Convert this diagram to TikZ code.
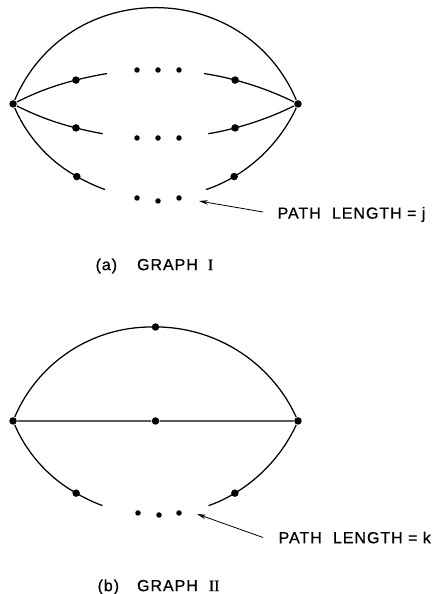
\documentclass[tikz,border=0pt]{standalone}
\usepackage{fontspec}
\setmainfont{Liberation Sans}
\newfontfamily\letfont[LetterSpace=6,FakeBold=0.8]{Liberation Sans}
\newfontfamily\romfont[FakeBold=0.8]{Liberation Serif}
\usetikzlibrary{arrows.meta,calc}

\begin{document}
\begin{tikzpicture}[x=1pt,y=1pt,line width=1.25pt,
  vtx/.style={circle,fill=black,inner sep=0pt,minimum size=7.5pt},
  dotg/.style={circle,fill=black,inner sep=0pt,minimum size=5.5pt},
  seg/.style={looseness=0.86},
  lab/.style={font=\letfont\fontsize{16}{19}\selectfont,anchor=west,inner sep=0pt},
  ptr/.style={line width=0.8pt,-{Stealth[length=9pt,width=4.5pt]}}]
 \useasboundingbox (0,0) rectangle (432,594);
 % graph I
 \coordinate (ca) at (155.5,429);
 \coordinate (cb) at (155.5,551);
 \coordinate (cc) at (155.5,210.6);
 \coordinate (cd) at (155.5,769.4);
 \node[vtx] (l1) at ($(ca)+(156.8:155)$) {};
 \node[vtx] (r1) at ($(ca)+(23.2:155)$) {};
 \draw (l1) to[bend left=66.8,looseness=1.22] (r1);
 % upper path
 \node[vtx] (p1) at ($(cc)+(104.7:313.6)$) {};
 \coordinate (e1) at ($(cc)+(98.9:313.6)$);
 \coordinate (f1) at ($(cc)+(81.1:313.6)$);
 \node[vtx] (q1) at ($(cc)+(75.3:313.6)$) {};
 \draw[seg] (l1) to[bend left=6.15] (p1) to[bend left=2.9] (e1);
 \draw[seg] (f1) to[bend left=2.9] (q1) to[bend left=6.15] (r1);
 % middle path
 \node[vtx] (p2) at ($(cd)+(255.3:313.6)$) {};
 \coordinate (e2) at ($(cd)+(260.3:313.6)$);
 \coordinate (f2) at ($(cd)+(279.7:313.6)$);
 \node[vtx] (q2) at ($(cd)+(284.7:313.6)$) {};
 \draw[seg] (l1) to[bend right=6.15] (p2) to[bend right=2.5] (e2);
 \draw[seg] (f2) to[bend right=2.5] (q2) to[bend right=6.15] (r1);
 % lower path
 \node[vtx] (p3) at ($(cb)+(239.5:155)$) {};
 \coordinate (e3) at ($(cb)+(251:155)$);
 \coordinate (f3) at ($(cb)+(289:155)$);
 \node[vtx] (q3) at ($(cb)+(300.5:155)$) {};
 \draw[seg] (l1) to[bend right=18.15] (p3) to[bend right=5.75] (e3);
 \draw[seg] (f3) to[bend right=5.75] (q3) to[bend right=18.15] (r1);
 \foreach \x/\n in {137/1,158/2,179/3} {
   \node[dotg] (ua\n) at (\x,524) {};
   \node[dotg] (ma\n) at (\x,456) {};
 }
 \node[dotg] (ba1) at (137,396) {};
 \node[dotg] (ba2) at (158,393) {};
 \node[dotg] (ba3) at (179,396) {};
 \coordinate (k1) at (199,393);
 \node[lab] (len1) at (277,379.5) {PATH\hspace{0.7em}LENGTH = j};
 \draw[ptr] ([xshift=-14pt,yshift=2.5pt]len1.west) -- (k1);
 \node[lab] (cap1) at (95,328) {(a)\hspace{20pt}GRAPH\hspace{10pt}{\romfont I}};
 % graph II
 \coordinate (cg) at (155.5,112);
 \coordinate (ch) at (155.5,234);
 \node[vtx] (l2) at ($(cg)+(156.8:155)$) {};
 \node[vtx] (r2) at ($(cg)+(23.2:155)$) {};
 \node[vtx] (t2) at ($(cg)+(90:155)$) {};
 \node[vtx] (m2) at (155.5,173) {};
 \draw (l2) to[bend left=33.4,looseness=0.93] (t2) to[bend left=33.4,looseness=0.93] (r2);
 \draw (l2) -- (m2) -- (r2);
 \node[vtx] (p4) at ($(ch)+(239.2:155)$) {};
 \coordinate (e4) at ($(ch)+(250:155)$);
 \coordinate (f4) at ($(ch)+(290:155)$);
 \node[vtx] (q4) at ($(ch)+(300.8:155)$) {};
 \draw[seg] (l2) to[bend right=18] (p4) to[bend right=5.4] (e4);
 \draw[seg] (f4) to[bend right=5.4] (q4) to[bend right=18] (r2);
 \node[dotg] (bb1) at (138,81) {};
 \node[dotg] (bb2) at (159,79) {};
 \node[dotg] (bb3) at (179,81) {};
 \coordinate (k2) at (197,80);
 \node[lab] (len2) at (278,56.5) {PATH\hspace{0.7em}LENGTH = k};
 \draw[ptr] ([xshift=-15pt]len2.west) -- (k2);
 \node[lab] (cap2) at (97,7) {(b)\hspace{18pt}GRAPH\hspace{11pt}{\romfont II}};
\end{tikzpicture}
\end{document}
